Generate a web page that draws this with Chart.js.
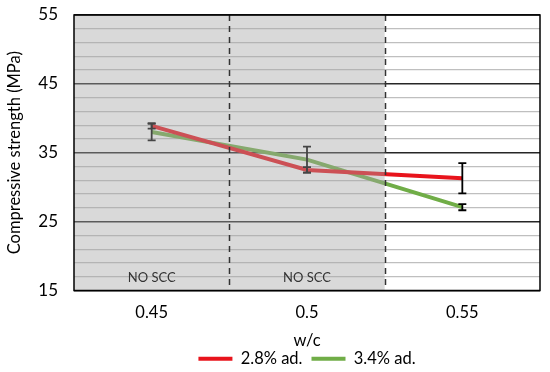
<!DOCTYPE html>
<html>
<head>
<meta charset="utf-8">
<script src="https://cdn.jsdelivr.net/npm/chart.js@4.4.1/dist/chart.umd.min.js"></script>
<style>
    html, body { margin: 0; padding: 0; background: #fff; }
    #wrap { width: 550px; height: 372px; }
</style>
</head>
<body>
<div id="wrap"><canvas id="chart"></canvas></div>
<script>
// data
const categories = ['0.45', '0.5', '0.55'];
const redValues = [38.9, 32.5, 31.3];
const redErrors = [0.4, 0.4, 2.2];
const greenValues = [38.0, 34.0, 27.1];
const greenErrors = [1.2, 1.9, 0.45];
const noScc = [true, true, false];
const noSccLabel = 'NO SCC';
const yMin = 15;
const yMax = 55;
const yMajorStep = 10;
const yMinorStep = 2;

const FONT = 'Lato, "Liberation Sans", sans-serif';

// error bars, gray overlay for the NO SCC part, dashed separators, frame
const overlayPlugin = {
    id: 'overlayPlugin',
    afterDatasetsDraw(chart) {
        const ctx = chart.ctx;
        const area = chart.chartArea;
        const x = chart.scales.x;
        const y = chart.scales.y;
        const half = (x.getPixelForValue(1) - x.getPixelForValue(0)) / 2;

        // error bars
        ctx.save();
        ctx.strokeStyle = '#000';
        ctx.lineWidth = 1.8;
        const cap = 4;
        chart.data.datasets.forEach((ds) => {
            ds.errors.forEach((err, i) => {
                const px = x.getPixelForValue(i);
                const top = y.getPixelForValue(ds.data[i] + err);
                const bottom = y.getPixelForValue(ds.data[i] - err);
                ctx.beginPath();
                ctx.moveTo(px, top);
                ctx.lineTo(px, bottom);
                ctx.moveTo(px - cap, top);
                ctx.lineTo(px + cap, top);
                ctx.moveTo(px - cap, bottom);
                ctx.lineTo(px + cap, bottom);
                ctx.stroke();
            });
        });
        ctx.restore();

        // translucent gray over the NO SCC categories
        ctx.save();
        ctx.fillStyle = 'rgba(165,165,165,0.42)';
        noScc.forEach((flag, i) => {
            if (!flag) {
                return;
            }
            const px = x.getPixelForValue(i);
            ctx.fillRect(px - half, area.top, half * 2, area.bottom - area.top);
        });
        ctx.restore();

        // dashed separators between categories
        ctx.save();
        ctx.strokeStyle = '#333';
        ctx.lineWidth = 1.5;
        ctx.setLineDash([6, 5]);
        for (let i = 0; i < categories.length - 1; i++) {
            const px = Math.round(x.getPixelForValue(i) + half) + 0.5;
            ctx.beginPath();
            ctx.moveTo(px, area.top);
            ctx.lineTo(px, area.bottom);
            ctx.stroke();
        }
        ctx.restore();

        // NO SCC labels
        ctx.save();
        ctx.fillStyle = '#333';
        ctx.font = '13px ' + FONT;
        ctx.textAlign = 'center';
        ctx.textBaseline = 'middle';
        noScc.forEach((flag, i) => {
            if (flag) {
                ctx.fillText(noSccLabel, x.getPixelForValue(i), area.bottom - 13);
            }
        });
        ctx.restore();

        // frame
        ctx.save();
        ctx.strokeStyle = '#000';
        ctx.lineWidth = 1.5;
        ctx.strokeRect(area.left, area.top, area.right - area.left, area.bottom - area.top);
        ctx.restore();
    }
};

new Chart(document.getElementById('chart'), {
    type: 'line',
    data: {
        labels: categories,
        datasets: [
            {
                label: '2.8% ad.',
                data: redValues,
                errors: redErrors,
                borderColor: '#e8141c',
                backgroundColor: '#e8141c',
                borderWidth: 4,
                pointRadius: 0,
                tension: 0,
            },
            {
                label: '3.4% ad.',
                data: greenValues,
                errors: greenErrors,
                borderColor: '#70ad47',
                backgroundColor: '#70ad47',
                borderWidth: 4,
                pointRadius: 0,
                tension: 0,
            },
        ],
    },
    options: {
        responsive: true,
        maintainAspectRatio: false,
        animation: false,
        layout: {
            padding: { top: 15, right: 10, left: 0, bottom: -5 },
        },
        plugins: {
            tooltip: { enabled: false },
            legend: {
                position: 'bottom',
                fullSize: false,
                labels: {
                    usePointStyle: true,
                    pointStyle: 'line',
                    pointStyleWidth: 34,
                    color: '#000',
                    font: { family: FONT, size: 16.5 },
                    padding: 9,
                },
            },
        },
        scales: {
            x: {
                offset: true,
                grid: { display: false, drawTicks: false },
                border: { display: false },
                ticks: {
                    color: '#000',
                    font: { family: FONT, size: 16.5 },
                    padding: 12,
                },
                title: {
                    display: true,
                    text: 'w/c',
                    color: '#000',
                    font: { family: FONT, size: 16.5 },
                    padding: { top: 2, bottom: -9 },
                },
                afterFit(scale) {
                    scale.height = 51;
                },
            },
            y: {
                min: yMin,
                max: yMax,
                grid: {
                    drawTicks: false,
                    color: (c) => ((c.tick.value - yMin) % yMajorStep === 0 ? '#262626' : '#bfbfbf'),
                    lineWidth: (c) => ((c.tick.value - yMin) % yMajorStep === 0 ? 1.5 : 1.3),
                },
                border: { display: false },
                ticks: {
                    stepSize: yMinorStep,
                    autoSkip: false,
                    color: '#000',
                    font: { family: FONT, size: 17 },
                    padding: 16,
                    callback: (v) => ((v - yMin) % yMajorStep === 0 ? v : ''),
                },
                title: {
                    display: true,
                    text: 'Compressive strength (MPa)',
                    color: '#000',
                    font: { family: FONT, size: 16.5 },
                    padding: { top: 5, bottom: 0 },
                },
                afterFit(scale) {
                    scale.width = 74;
                    scale.paddingTop = 0;
                    scale.paddingBottom = 0;
                },
            },
        },
    },
    plugins: [overlayPlugin],
});
</script>
</body>
</html>
